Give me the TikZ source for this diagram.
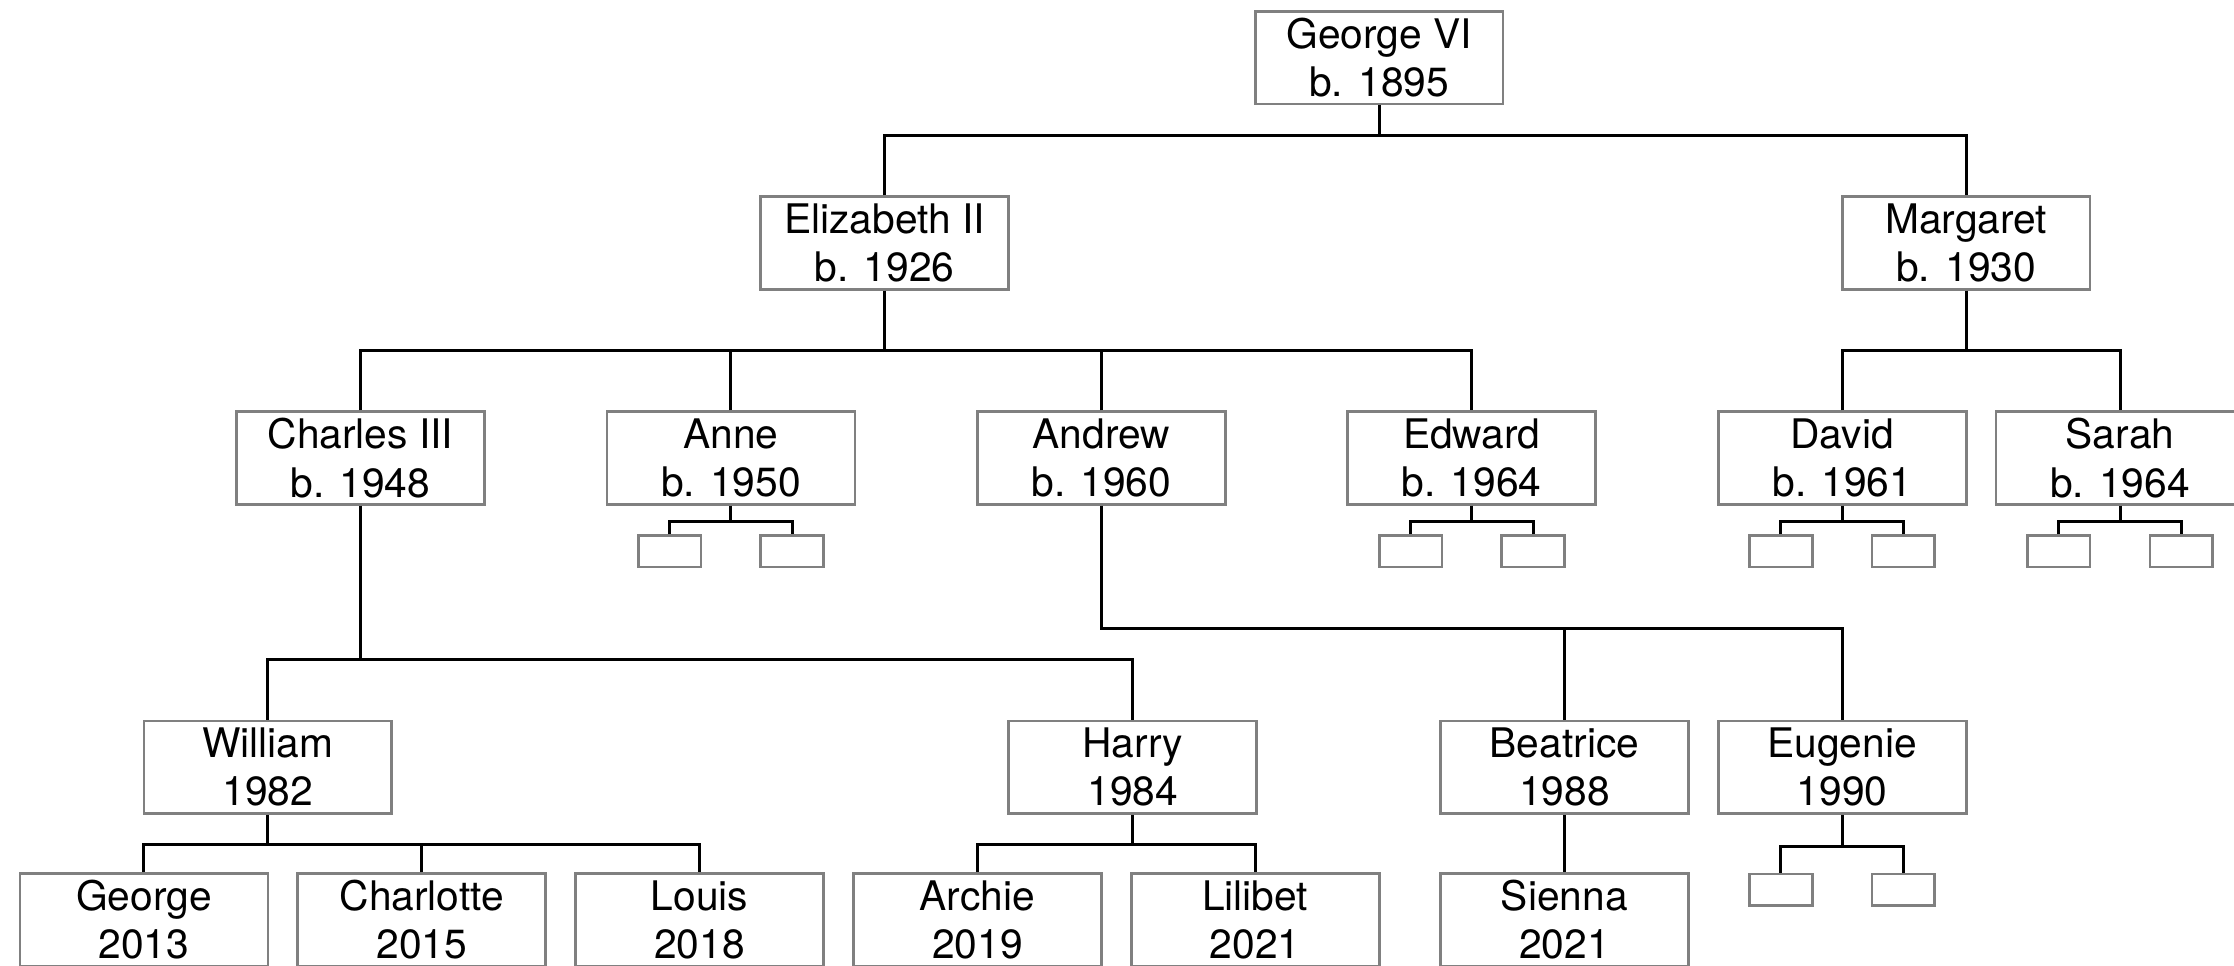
\documentclass[tikz,border=0pt]{standalone}
\usepackage{fontspec}
\setmainfont{TeX Gyre Heros}
\begin{document}
\begin{tikzpicture}[x=0.5pt,y=-0.5pt,
  person/.style={draw=gray, line width=0.95pt, minimum width=87pt, minimum height=32.5pt, inner sep=0pt, align=center, font=\fontsize{14.3}{16.9}\selectfont},
  small/.style={draw=gray, line width=0.95pt, minimum width=22pt, minimum height=11pt, inner sep=0pt},
  conn/.style={draw=black, line width=1.05pt}]
\clip (0,0) rectangle (1568,678);
% bar levels
\coordinate (b0) at (0,95);
\coordinate (b1) at (0,246);
\coordinate (b2) at (0,366);
\coordinate (bC) at (0,463);
\coordinate (bA) at (0,441);
\coordinate (b3) at (0,593);
\coordinate (b4) at (0,594);
% level 0
\node[person] (g6) at (968,40.5) {George VI\\b. 1895};
% level 1
\node[person] (eliz) at (621,170.5) {Elizabeth II\\b. 1926};
\node[person] (marg) at (1380,170.5) {Margaret\\b. 1930};
% level 2
\node[person] (charles) at (253,321.5) {Charles III\\b. 1948};
\node[person] (anne) at (513,321.5) {Anne\\b. 1950};
\node[person] (andrew) at (773,321.5) {Andrew\\b. 1960};
\node[person] (edward) at (1033,321.5) {Edward\\b. 1964};
\node[person] (david) at (1293,321.5) {David\\b. 1961};
\node[person] (sarah) at (1488,321.5) {Sarah\\b. 1964};
% small boxes level 2
\node[small] (an1) at (470,387) {};
\node[small] (an2) at (556,387) {};
\node[small] (ed1) at (990,387) {};
\node[small] (ed2) at (1076,387) {};
\node[small] (da1) at (1250,387) {};
\node[small] (da2) at (1336,387) {};
\node[small] (sa1) at (1445,387) {};
\node[small] (sa2) at (1531,387) {};
% level 3
\node[person] (william) at (188,538.5) {William\\1982};
\node[person] (harry) at (795,538.5) {Harry\\1984};
\node[person] (bea) at (1098,538.5) {Beatrice\\1988};
\node[person] (eug) at (1293,538.5) {Eugenie\\1990};
% level 4
\node[person] (george) at (101,645.5) {George\\2013};
\node[person] (charlotte) at (296,645.5) {Charlotte\\2015};
\node[person] (louis) at (491,645.5) {Louis\\2018};
\node[person] (archie) at (686,645.5) {Archie\\2019};
\node[person] (lilibet) at (881,645.5) {Lilibet\\2021};
\node[person] (sienna) at (1098,645.5) {Sienna\\2021};
\node[small] (eu1) at (1250,624.5) {};
\node[small] (eu2) at (1336,624.5) {};
% connectors
\draw[conn] (g6.south) -- (g6.south |- b0);
\draw[conn] (eliz.north) |- (marg.north |- b0) -- (marg.north);

\draw[conn] (eliz.south) -- (eliz.south |- b1);
\draw[conn] (charles.north) |- (edward.north |- b1) -- (edward.north);
\draw[conn] (anne.north) -- (anne.north |- b1);
\draw[conn] (andrew.north) -- (andrew.north |- b1);

\draw[conn] (marg.south) -- (marg.south |- b1);
\draw[conn] (david.north) |- (sarah.north |- b1) -- (sarah.north);

\draw[conn] (anne.south) -- (anne.south |- b2);
\draw[conn] (an1.north) |- (an2.north |- b2) -- (an2.north);
\draw[conn] (edward.south) -- (edward.south |- b2);
\draw[conn] (ed1.north) |- (ed2.north |- b2) -- (ed2.north);
\draw[conn] (david.south) -- (david.south |- b2);
\draw[conn] (da1.north) |- (da2.north |- b2) -- (da2.north);
\draw[conn] (sarah.south) -- (sarah.south |- b2);
\draw[conn] (sa1.north) |- (sa2.north |- b2) -- (sa2.north);

\draw[conn] (charles.south) -- (charles.south |- bC);
\draw[conn] (william.north) |- (harry.north |- bC) -- (harry.north);

\draw[conn] (andrew.south) |- (eug.north |- bA) -- (eug.north);
\draw[conn] (bea.north) -- (bea.north |- bA);

\draw[conn] (william.south) -- (william.south |- b3);
\draw[conn] (george.north) |- (louis.north |- b3) -- (louis.north);
\draw[conn] (charlotte.north) -- (charlotte.north |- b3);

\draw[conn] (harry.south) -- (harry.south |- b3);
\draw[conn] (archie.north) |- (lilibet.north |- b3) -- (lilibet.north);

\draw[conn] (bea.south) -- (sienna.north);

\draw[conn] (eug.south) -- (eug.south |- b4);
\draw[conn] (eu1.north) |- (eu2.north |- b4) -- (eu2.north);
\end{tikzpicture}
\end{document}
